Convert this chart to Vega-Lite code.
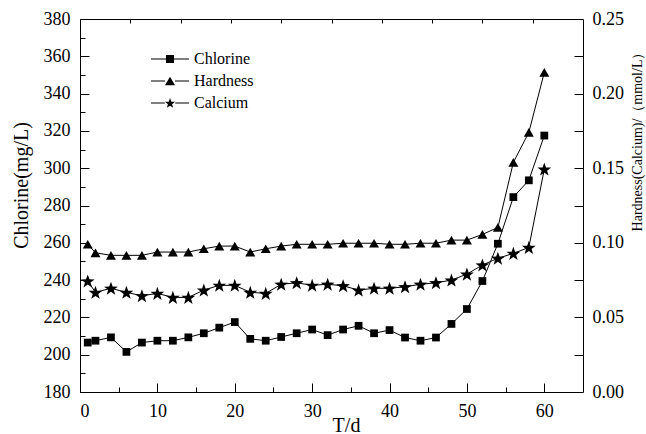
{
  "$schema": "https://vega.github.io/schema/vega-lite/v6.json",
  "autosize": {"type": "none"},
  "padding": {"left": 80, "top": 19, "right": 63, "bottom": 42},
  "width": 503,
  "height": 373,
  "background": "white",
  "config": {
    "font": "Liberation Serif",
    "view": {"stroke": "black", "strokeWidth": 1},
    "axis": {
      "labelFont": "Liberation Serif",
      "titleFont": "Liberation Serif",
      "labelFontSize": 18,
      "titleFontWeight": "normal",
      "labelColor": "black",
      "titleColor": "black",
      "domain": false,
      "tickColor": "black",
      "tickWidth": 1,
      "zindex": 1,
      "grid": false
    },
    "legend": {
      "labelFont": "Liberation Serif",
      "labelFontSize": 16,
      "labelColor": "black"
    }
  },
  "datasets": {
    "d": [
      {"t": 1, "series": "Chlorine", "v": 206.5},
      {"t": 2, "series": "Chlorine", "v": 207.5},
      {"t": 4, "series": "Chlorine", "v": 209.3},
      {"t": 6, "series": "Chlorine", "v": 201.5},
      {"t": 8, "series": "Chlorine", "v": 206.5},
      {"t": 10, "series": "Chlorine", "v": 207.5},
      {"t": 12, "series": "Chlorine", "v": 207.5},
      {"t": 14, "series": "Chlorine", "v": 209.3},
      {"t": 16, "series": "Chlorine", "v": 211.5},
      {"t": 18, "series": "Chlorine", "v": 214.5},
      {"t": 20, "series": "Chlorine", "v": 217.5},
      {"t": 22, "series": "Chlorine", "v": 208.5},
      {"t": 24, "series": "Chlorine", "v": 207.5},
      {"t": 26, "series": "Chlorine", "v": 209.5},
      {"t": 28, "series": "Chlorine", "v": 211.5},
      {"t": 30, "series": "Chlorine", "v": 213.5},
      {"t": 32, "series": "Chlorine", "v": 210.5},
      {"t": 34, "series": "Chlorine", "v": 213.5},
      {"t": 36, "series": "Chlorine", "v": 215.5},
      {"t": 38, "series": "Chlorine", "v": 211.5},
      {"t": 40, "series": "Chlorine", "v": 213.2},
      {"t": 42, "series": "Chlorine", "v": 209.2},
      {"t": 44, "series": "Chlorine", "v": 207.5},
      {"t": 46, "series": "Chlorine", "v": 209.2},
      {"t": 48, "series": "Chlorine", "v": 216.5},
      {"t": 50, "series": "Chlorine", "v": 224.5},
      {"t": 52, "series": "Chlorine", "v": 239.5},
      {"t": 54, "series": "Chlorine", "v": 259.5},
      {"t": 56, "series": "Chlorine", "v": 284.5},
      {"t": 58, "series": "Chlorine", "v": 293.5},
      {"t": 60, "series": "Chlorine", "v": 317.5},
      {"t": 1, "series": "Hardness", "v": 0.099},
      {"t": 2, "series": "Hardness", "v": 0.0933},
      {"t": 4, "series": "Hardness", "v": 0.0916},
      {"t": 6, "series": "Hardness", "v": 0.0916},
      {"t": 8, "series": "Hardness", "v": 0.0916},
      {"t": 10, "series": "Hardness", "v": 0.0938},
      {"t": 12, "series": "Hardness", "v": 0.0938},
      {"t": 14, "series": "Hardness", "v": 0.0938},
      {"t": 16, "series": "Hardness", "v": 0.096},
      {"t": 18, "series": "Hardness", "v": 0.0978},
      {"t": 20, "series": "Hardness", "v": 0.0978},
      {"t": 22, "series": "Hardness", "v": 0.0938},
      {"t": 24, "series": "Hardness", "v": 0.096},
      {"t": 26, "series": "Hardness", "v": 0.0978},
      {"t": 28, "series": "Hardness", "v": 0.099},
      {"t": 30, "series": "Hardness", "v": 0.099},
      {"t": 32, "series": "Hardness", "v": 0.099},
      {"t": 34, "series": "Hardness", "v": 0.0997},
      {"t": 36, "series": "Hardness", "v": 0.0997},
      {"t": 38, "series": "Hardness", "v": 0.0997},
      {"t": 40, "series": "Hardness", "v": 0.099},
      {"t": 42, "series": "Hardness", "v": 0.099},
      {"t": 44, "series": "Hardness", "v": 0.0997},
      {"t": 46, "series": "Hardness", "v": 0.0997},
      {"t": 48, "series": "Hardness", "v": 0.1018},
      {"t": 50, "series": "Hardness", "v": 0.1018},
      {"t": 52, "series": "Hardness", "v": 0.1056},
      {"t": 54, "series": "Hardness", "v": 0.1103},
      {"t": 56, "series": "Hardness", "v": 0.1539},
      {"t": 58, "series": "Hardness", "v": 0.174},
      {"t": 60, "series": "Hardness", "v": 0.2142},
      {"t": 1, "series": "Calcium", "v": 0.0744},
      {"t": 2, "series": "Calcium", "v": 0.0668},
      {"t": 4, "series": "Calcium", "v": 0.0695},
      {"t": 6, "series": "Calcium", "v": 0.0668},
      {"t": 8, "series": "Calcium", "v": 0.0645},
      {"t": 10, "series": "Calcium", "v": 0.0661},
      {"t": 12, "series": "Calcium", "v": 0.0634},
      {"t": 14, "series": "Calcium", "v": 0.0634},
      {"t": 16, "series": "Calcium", "v": 0.0683},
      {"t": 18, "series": "Calcium", "v": 0.0715},
      {"t": 20, "series": "Calcium", "v": 0.0715},
      {"t": 22, "series": "Calcium", "v": 0.0668},
      {"t": 24, "series": "Calcium", "v": 0.0661},
      {"t": 26, "series": "Calcium", "v": 0.0722},
      {"t": 28, "series": "Calcium", "v": 0.0732},
      {"t": 30, "series": "Calcium", "v": 0.0715},
      {"t": 32, "series": "Calcium", "v": 0.0722},
      {"t": 34, "series": "Calcium", "v": 0.0712},
      {"t": 36, "series": "Calcium", "v": 0.0683},
      {"t": 38, "series": "Calcium", "v": 0.0695},
      {"t": 40, "series": "Calcium", "v": 0.0695},
      {"t": 42, "series": "Calcium", "v": 0.0705},
      {"t": 44, "series": "Calcium", "v": 0.0722},
      {"t": 46, "series": "Calcium", "v": 0.0732},
      {"t": 48, "series": "Calcium", "v": 0.075},
      {"t": 50, "series": "Calcium", "v": 0.079},
      {"t": 52, "series": "Calcium", "v": 0.0851},
      {"t": 54, "series": "Calcium", "v": 0.0896},
      {"t": 56, "series": "Calcium", "v": 0.0929},
      {"t": 58, "series": "Calcium", "v": 0.0969},
      {"t": 60, "series": "Calcium", "v": 0.1494}
    ]
  },
  "data": {"name": "d"},
  "layer": [
    {
      "transform": [{"filter": "datum.series === 'Chlorine'"}],
      "mark": {"type": "line", "color": "black", "strokeWidth": 1},
      "encoding": {
        "x": {
          "field": "t", "type": "quantitative",
          "scale": {"domain": [0, 65], "nice": false, "zero": false},
          "axis": {
            "orient": "bottom",
            "values": [0, 10, 20, 30, 40, 50, 60],
            "ticks": false,
            "tickSize": 0,
            "labelPadding": 10,
            "labelFont": "Liberation Serif",
            "title": "T/d",
            "titleFontSize": 20,
            "titleX": 266,
            "titleY": 33,
            "titleAlign": "center",
            "titleBaseline": "middle"
          }
        },
        "y": {
          "field": "v", "type": "quantitative",
          "scale": {"domain": [180, 380], "nice": false, "zero": false},
          "axis": {
            "orient": "left",
            "values": [180, 200, 220, 240, 260, 280, 300, 320, 340, 360, 380],
            "ticks": false,
            "tickSize": 0,
            "labelPadding": 10,
            "labelFont": "Liberation Serif",
            "title": "Chlorine(mg/L)",
            "titleFontSize": 20,
            "titleAngle": 270,
            "titleX": -59,
            "titleY": 166,
            "titleAlign": "center",
            "titleBaseline": "middle"
          }
        }
      }
    },
    {
      "transform": [{"filter": "datum.series === 'Chlorine'"}],
      "mark": {"type": "point", "filled": true, "color": "black", "opacity": 1, "size": 60},
      "encoding": {
        "x": {
          "field": "t", "type": "quantitative",
          "scale": {"domain": [0, 65], "nice": false, "zero": false},
          "axis": {
            "orient": "bottom",
            "values": [0, 10, 20, 30, 40, 50, 60],
            "offset": -9,
            "ticks": true,
            "tickSize": 9,
            "labels": false,
            "title": null
          }
        },
        "y": {
          "field": "v", "type": "quantitative",
          "scale": {"domain": [180, 380], "nice": false, "zero": false},
          "axis": {
            "orient": "left",
            "values": [180, 200, 220, 240, 260, 280, 300, 320, 340, 360, 380],
            "offset": -9,
            "ticks": true,
            "tickSize": 9,
            "labels": false,
            "title": null
          }
        },
        "shape": {
          "field": "series", "type": "nominal",
          "scale": {"domain": ["Chlorine", "Hardness", "Calcium"], "range": ["square", "triangle-up", "M0,-1.32L0.341,-0.339L1.379,-0.318L0.552,0.309L0.852,1.303L0,0.71L-0.852,1.303L-0.552,0.309L-1.379,-0.318L-0.341,-0.339Z"]},
          "legend": null
        }
      }
    },
    {
      "transform": [{"filter": "datum.series !== 'Chlorine'"}],
      "mark": {"type": "line", "color": "black", "strokeWidth": 1},
      "encoding": {
        "x": {
          "field": "t", "type": "quantitative",
          "scale": {"domain": [0, 65], "nice": false, "zero": false},
          "axis": {
            "orient": "top",
            "values": [6.5, 13, 19.5, 26, 32.5, 39, 45.5, 52, 58.5],
            "offset": -4,
            "ticks": true,
            "tickSize": 4,
            "labels": false,
            "title": null
          }
        },
        "y": {
          "field": "v", "type": "quantitative",
          "scale": {"domain": [0, 0.25], "nice": false, "zero": false},
          "axis": {
            "orient": "right",
            "values": [0, 0.05, 0.1, 0.15, 0.2, 0.25],
            "format": ".2f",
            "ticks": false,
            "tickSize": 0,
            "labelPadding": 9,
            "labelFont": "Liberation Serif",
            "title": "Hardness(Calcium)/（mmol/L）",
            "titleFontSize": 14,
            "titleAngle": 270,
            "titleX": 54,
            "titleY": 119,
            "titleAlign": "center",
            "titleBaseline": "middle"
          }
        },
        "detail": {"field": "series", "type": "nominal"}
      }
    },
    {
      "transform": [{"filter": "datum.series !== 'Chlorine'"}],
      "mark": {"type": "point", "filled": true, "color": "black", "opacity": 1, "size": 100},
      "encoding": {
        "x": {
          "field": "t", "type": "quantitative",
          "scale": {"domain": [0, 65], "nice": false, "zero": false},
          "axis": {
            "orient": "bottom",
            "values": [5, 15, 25, 35, 45, 55],
            "offset": -5,
            "ticks": true,
            "tickSize": 5,
            "labels": false,
            "title": null
          }
        },
        "y": {
          "field": "v", "type": "quantitative",
          "scale": {"domain": [0, 0.25], "nice": false, "zero": false},
          "axis": {
            "orient": "right",
            "values": [0.025, 0.05, 0.075, 0.1, 0.125, 0.15, 0.175, 0.2, 0.225],
            "offset": -9,
            "ticks": true,
            "tickSize": 9,
            "labels": false,
            "title": null
          }
        },
        "shape": {
          "field": "series", "type": "nominal",
          "scale": {"domain": ["Chlorine", "Hardness", "Calcium"], "range": ["square", "triangle-up", "M0,-1.32L0.341,-0.339L1.379,-0.318L0.552,0.309L0.852,1.303L0,0.71L-0.852,1.303L-0.552,0.309L-1.379,-0.318L-0.341,-0.339Z"]},
          "legend": null
        }
      }
    },
    {
      "transform": [{"filter": "false"}],
      "mark": {"type": "point", "filled": true, "fill": "black", "stroke": "black", "strokeWidth": 1, "opacity": 1, "size": 64},
      "encoding": {
        "x": {
          "field": "t", "type": "quantitative",
          "scale": {"domain": [0, 65], "nice": false, "zero": false},
          "axis": null
        },
        "y": {
          "field": "v", "type": "quantitative",
          "scale": {"domain": [180, 380], "nice": false, "zero": false},
          "axis": {
            "orient": "left",
            "values": [190, 210, 230, 250, 270, 290, 310, 330, 350, 370],
            "offset": -5,
            "ticks": true,
            "tickSize": 5,
            "labels": false,
            "title": null
          }
        },
        "shape": {
          "field": "series", "type": "nominal",
          "scale": {"domain": ["Chlorine", "Hardness", "Calcium"], "range": [
            "M-4.75,-0.125H-1V0.125H-4.75ZM1,-0.125H4.75V0.125H1ZM-1,-1H1V1H-1Z",
            "M-4.75,-0.125H-1.25V0.125H-4.75ZM1.25,-0.125H4.75V0.125H1.25ZM0,-1.08L1.25,1.08L-1.25,1.08Z",
            "M-4.75,-0.125H-1.3V0.125H-4.75ZM1.3,-0.125H4.75V0.125H1.3ZM0,-1.23L0.318,-0.317L1.284,-0.297L0.514,0.287L0.794,1.212L0,0.66L-0.794,1.212L-0.514,0.287L-1.284,-0.297L-0.318,-0.317Z"
          ]},
          "legend": {
            "orient": "none",
            "legendX": 82,
            "legendY": 32,
            "title": null,
            "padding": 0,
            "symbolSize": 64,
            "symbolFillColor": "black",
            "symbolStrokeColor": "black",
            "symbolStrokeWidth": 1,
            "symbolOpacity": 1,
            "labelOffset": 16,
            "labelFont": "Liberation Serif",
            "labelFontSize": 16,
            "rowPadding": 6
          }
        }
      }
    }
  ],
  "resolve": {"scale": {"y": "independent", "shape": "independent"}, "axis": {"x": "independent", "y": "independent"}, "legend": {"shape": "independent"}}
}
